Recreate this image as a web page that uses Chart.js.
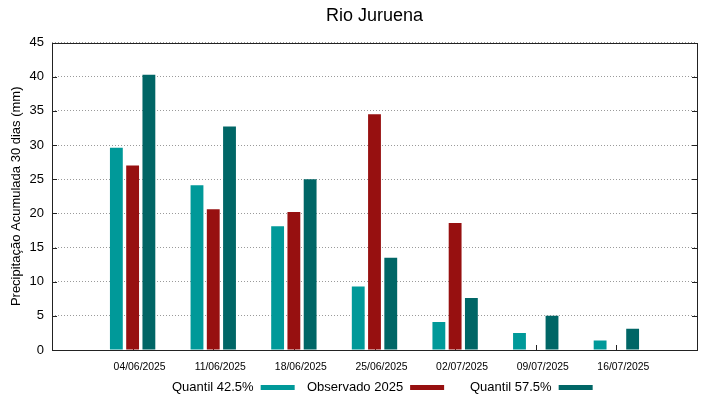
<!DOCTYPE html>
<html>
<head>
<meta charset="utf-8">
<script src="https://cdn.jsdelivr.net/npm/chart.js@4"></script>
<style>
  html, body { margin: 0; padding: 0; background: #fff; }
  #wrap { width: 719px; height: 399px; }
</style>
</head>
<body>
<div id="wrap"><canvas id="chuva-chart"></canvas></div>
<script>
const dates = ["04/06/2025", "11/06/2025", "18/06/2025", "25/06/2025", "02/07/2025", "09/07/2025", "16/07/2025"];
const quantil425 = [29.6, 24.1, 18.1, 9.3, 4.1, 2.5, 1.4];
const observado2025 = [27.0, 20.6, 20.2, 34.5, 18.6, null, null];
const quantil575 = [40.3, 32.7, 25.0, 13.5, 7.6, 5.0, 3.1];
const yTicks = [0, 5, 10, 15, 20, 25, 30, 35, 40, 45];

// empty slot on each side, like gnuplot's xrange
const pad = (arr) => [null, ...arr, null];
const labels = ["", ...dates, ""];

const FONT = "'Liberation Sans', Arial, sans-serif";

// frame + inward ticks + gnuplot-style legend
const gnuplotLook = {
  id: "gnuplotLook",
  beforeDatasetsDraw(chart) {
    const { ctx, chartArea: a, scales } = chart;
    ctx.save();
    ctx.strokeStyle = "#222";
    ctx.lineWidth = 1;
    ctx.beginPath();
    for (let i = 1; i < labels.length - 1; i++) {
      const x = Math.round(scales.x.getPixelForValue(i)) + 0.5;
      ctx.moveTo(x, a.bottom);
      ctx.lineTo(x, a.bottom - 5);
    }
    yTicks.forEach((v) => {
      const y = Math.round(scales.y.getPixelForValue(v)) + 0.5;
      ctx.moveTo(a.left, y);
      ctx.lineTo(a.left + 5, y);
      ctx.moveTo(a.right, y);
      ctx.lineTo(a.right - 5, y);
    });
    ctx.stroke();
    ctx.restore();
  },
  afterDatasetsDraw(chart) {
    const { ctx, chartArea: a } = chart;
    ctx.save();
    ctx.strokeStyle = "#222";
    ctx.lineWidth = 1;
    ctx.strokeRect(Math.round(a.left) + 0.5, Math.round(a.top) + 0.5,
      Math.round(a.right - a.left), Math.round(a.bottom - a.top));

    // legend: text then swatch
    const starts = [172, 307, 470];
    ctx.font = "13px " + FONT;
    ctx.textBaseline = "middle";
    chart.data.datasets.forEach((ds, i) => {
      const w = ctx.measureText(ds.label).width;
      ctx.fillStyle = "#000";
      ctx.fillText(ds.label, starts[i], 387);
      ctx.fillStyle = ds.backgroundColor;
      ctx.fillRect(starts[i] + w + 7, 385, 34, 5);
    });
    ctx.restore();
  },
};

new Chart(document.getElementById("chuva-chart"), {
  type: "bar",
  data: {
    labels: labels,
    datasets: [
      { label: "Quantil 42.5%", data: pad(quantil425), backgroundColor: "#009999" },
      { label: "Observado 2025", data: pad(observado2025), backgroundColor: "#971010" },
      { label: "Quantil 57.5%", data: pad(quantil575), backgroundColor: "#006666" },
    ],
  },
  options: {
    responsive: true,
    maintainAspectRatio: false,
    animation: false,
    devicePixelRatio: 1,
    categoryPercentage: 0.605,
    barPercentage: 0.79,
    layout: { padding: { left: 0, right: 22, top: 0, bottom: 19 } },
    plugins: {
      legend: { display: false },
      tooltip: { enabled: false },
      title: {
        display: true,
        text: "Rio Juruena",
        fullSize: false,
        color: "#000",
        font: { family: FONT, size: 18, weight: "normal" },
        padding: { top: 5, bottom: 16 },
      },
    },
    scales: {
      x: {
        offset: false,
        grid: { display: false, drawTicks: false },
        border: { display: false },
        ticks: {
          autoSkip: false,
          maxRotation: 0,
          padding: 11,
          labelOffset: 7,
          color: "#000",
          font: { family: FONT, size: 10.4 },
        },
        afterFit(scale) { scale.height = 30; },
      },
      y: {
        min: 0,
        max: 45,
        afterBuildTicks(scale) { scale.ticks = yTicks.map((v) => ({ value: v })); },
        grid: {
          drawTicks: false,
          color: "#9a9a9a",
          lineWidth: 1,
        },
        border: { display: false, dash: [1, 2] },
        ticks: {
          padding: 8,
          color: "#000",
          font: { family: FONT, size: 13 },
        },
        title: {
          display: true,
          text: "Precipitação Acumulada 30 dias (mm)",
          color: "#000",
          font: { family: FONT, size: 13 },
          padding: { top: 9, bottom: 0 },
        },
        afterFit(scale) { scale.width = 52; },
      },
    },
  },
  plugins: [gnuplotLook],
});
</script>
</body>
</html>
